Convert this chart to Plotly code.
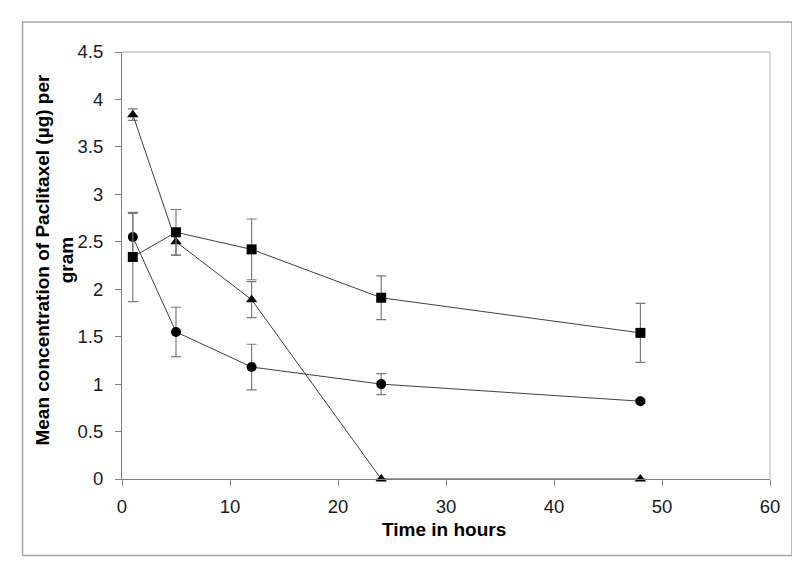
import plotly.graph_objects as go

time_h = [1, 5, 12, 24, 48]

sq_vals = [2.34, 2.60, 2.42, 1.91, 1.54]
sq_err = [0.47, 0.24, 0.32, 0.23, 0.31]

ci_vals = [2.55, 1.55, 1.18, 1.00, 0.82]
ci_err = [0.25, 0.26, 0.24, 0.11, 0.02]

tr_vals = [3.84, 2.50, 1.89, 0.0, 0.0]
tr_err = [0.06, 0.14, 0.19, 0.0, 0.0]

x_title = "Time in hours"
y_title = "Mean concentration of Paclitaxel (µg) per<br>gram"

W, H = 800, 562
L, R, T, B = 113.5, 762, 44, 471  # plot area pixel bounds


def px_x(p):
    return (p - L) / (R - L)


def px_y(p):
    return (B - p) / (B - T)


fig = go.Figure()

series = [
    (tr_vals, tr_err, "triangle-up", 10),
    (ci_vals, ci_err, "circle", 10),
    (sq_vals, sq_err, "square", 10),
]
for vals, errs, sym, size in series:
    fig.add_trace(go.Scatter(
        x=time_h, y=vals, mode="lines+markers",
        line=dict(color="#404040", width=1),
        marker=dict(symbol=sym, size=size, color="black"),
        error_y=dict(type="data", array=errs, visible=True,
                     color="#7a7a7a", thickness=1.2, width=5),
        cliponaxis=False, showlegend=False,
    ))

font_family = "Liberation Sans, Arial, sans-serif"

fig.update_layout(
    width=W, height=H,
    margin=dict(l=L, r=W - R, t=T, b=H - B, pad=0),
    paper_bgcolor="white", plot_bgcolor="white",
    font=dict(family=font_family, size=18.5, color="#1a1a1a"),
    xaxis=dict(range=[0, 60], dtick=10, tick0=0, showgrid=False, zeroline=False,
               showline=True, linecolor="#808080", linewidth=1.2,
               ticks="outside", ticklen=6, tickcolor="#808080",
               ticklabelstandoff=5),
    yaxis=dict(range=[0, 4.5], dtick=0.5, tick0=0, showgrid=False, zeroline=False,
               showline=True, linecolor="#808080", linewidth=1.2,
               ticks="outside", ticklen=6, tickcolor="#808080",
               ticklabelstandoff=8),
    shapes=[
        # outer border
        dict(type="rect", xref="paper", yref="paper",
             x0=px_x(14), x1=px_x(784), y0=px_y(547.5), y1=px_y(14),
             line=dict(color="#a8a8a8", width=1.5), layer="below"),
        # plot frame top
        dict(type="line", xref="paper", yref="paper",
             x0=0, x1=1, y0=1, y1=1, line=dict(color="#d6d6d6", width=2)),
        # plot frame right
        dict(type="line", xref="paper", yref="paper",
             x0=1, x1=1, y0=0, y1=1, line=dict(color="#b4b4b4", width=1)),
    ],
    annotations=[
        dict(text=f"<b>{x_title}</b>", xref="paper", yref="paper",
             x=px_x(436), y=px_y(521), xanchor="center", yanchor="middle",
             showarrow=False, font=dict(size=19, color="black")),
        dict(text=f"<b>{y_title}</b>", xref="paper", yref="paper",
             x=px_x(46), y=px_y(252), xanchor="center", yanchor="middle",
             textangle=-90, showarrow=False,
             font=dict(size=19, color="black")),
    ],
)

fig.write_html("out.html")
